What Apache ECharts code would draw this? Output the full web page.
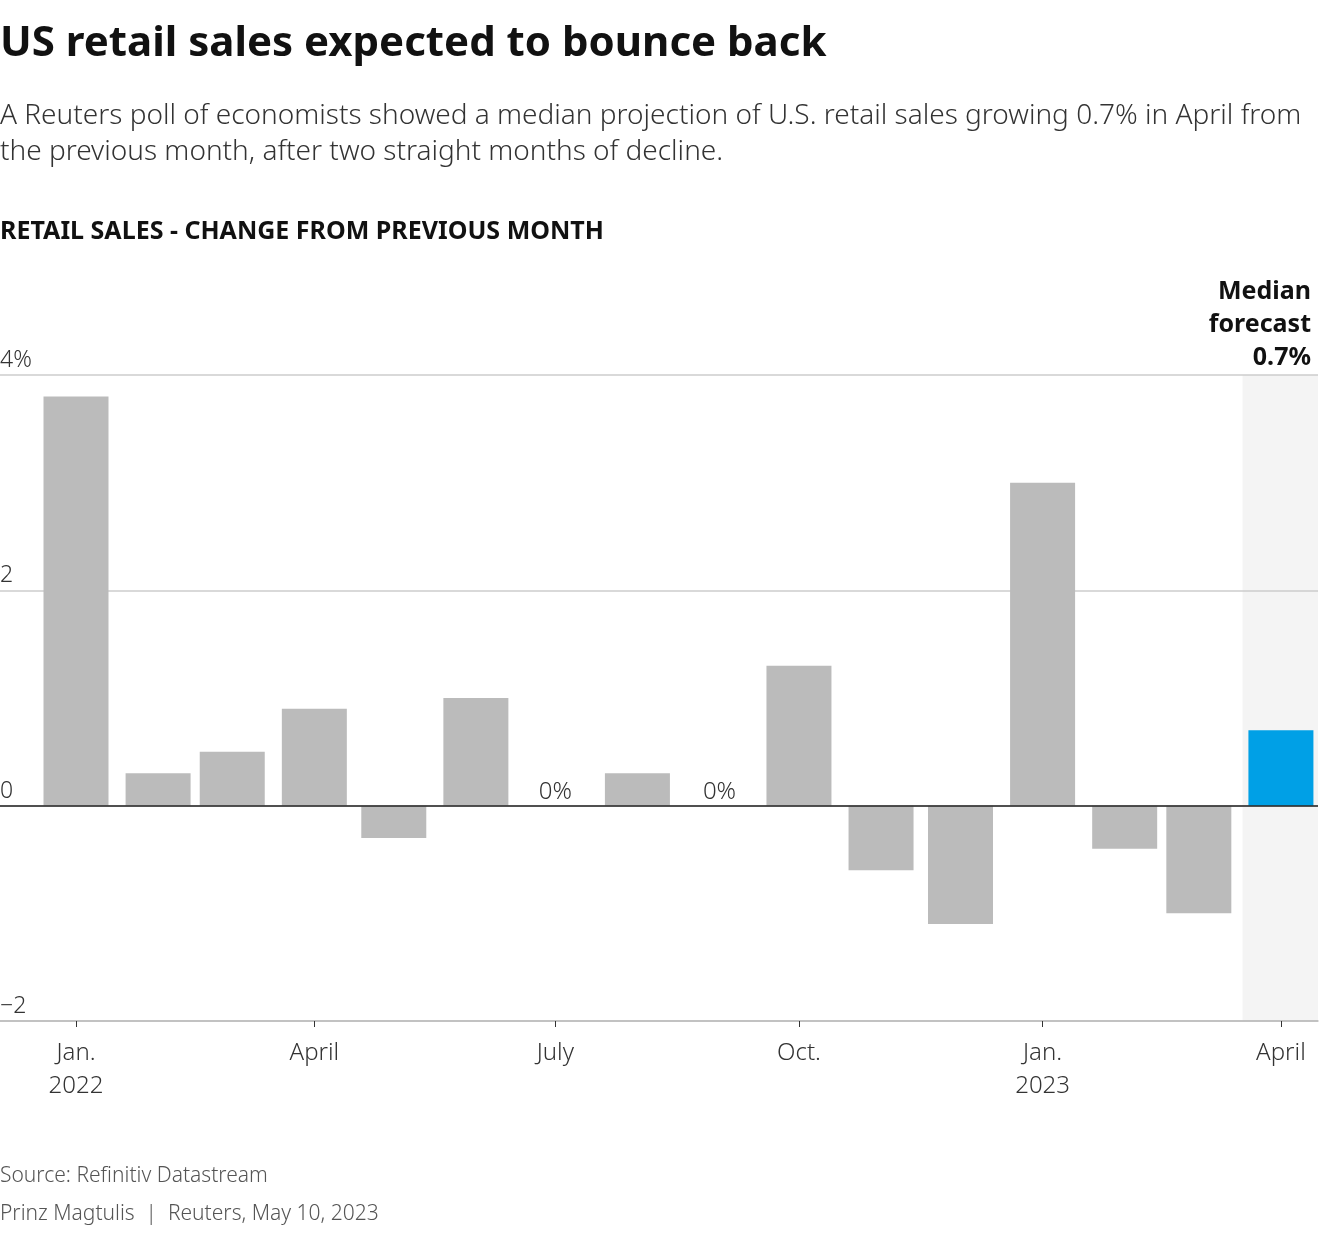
<!DOCTYPE html>
<html lang="en">
<head>
    <meta charset="UTF-8">
    <title>US retail sales expected to bounce back</title>
    <script src="https://cdn.jsdelivr.net/npm/echarts@6/dist/echarts.min.js"></script>
    <style>
        *{
            padding: 0;
            margin: 0;
        }
        html, body{
            width: 100%;
            height: 100%;
            background: #fff;
        }
        .echarts{
            width: 1320px;
            height: 1240px;
        }
    </style>
</head>
<body>
<div class="echarts"></div>
<script>
    // monthly % change, Jan 2022 - Mar 2023 actual, Apr 2023 forecast
    const months = ['2022-01', '2022-02', '2022-03', '2022-04', '2022-05', '2022-06', '2022-07', '2022-08',
        '2022-09', '2022-10', '2022-11', '2022-12', '2023-01', '2023-02', '2023-03'];
    const values = [3.8, 0.3, 0.5, 0.9, -0.3, 1.0, 0, 0.3, 0, 1.3, -0.6, -1.1, 3.0, -0.4, -1.0];
    const forecastMonth = '2023-04';
    const forecastValue = 0.7;
    const tickMonths = ['2022-01', '2022-04', '2022-07', '2022-10', '2023-01', '2023-04'];
    const tickLabels = ['Jan.\n2022', 'April', 'July', 'Oct.', 'Jan.\n2023', 'April'];

    const FONT = "'Source Sans Pro', 'Noto Sans', sans-serif";
    const base = Date.UTC(2022, 0, 1);
    // month string -> days since Jan 1, 2022
    function toDay(m) {
        let [y, mo] = m.split('-').map(Number);
        return (Date.UTC(y, mo - 1, 1) - base) / 86400000;
    }
    const xMin = -28.7, xMax = 469;

    window.onload = function () {
        let chart = echarts.init(document.querySelector('.echarts'));
        let actual = months.map((m, i) => [toDay(m), values[i]]);
        let fDay = toDay(forecastMonth);
        let tickDays = tickMonths.map(toDay);
        let labelMap = {};
        tickDays.forEach((d, i) => labelMap[d] = tickLabels[i]);

        let option = {
            backgroundColor: '#fff',
            animation: false,
            textStyle: {fontFamily: FONT},
            title: [{
                text: 'US retail sales expected to bounce back',
                left: 0, top: 23, padding: 0,
                textStyle: {fontFamily: FONT, fontSize: 42, fontWeight: 'bold', color: '#111'}
            }, {
                text: 'A Reuters poll of economists showed a median projection of U.S. retail sales growing 0.7% in April from\nthe previous month, after two straight months of decline.',
                left: 0, top: 98, padding: 0,
                textStyle: {fontFamily: FONT, fontSize: 28, fontWeight: 300, color: '#333', lineHeight: 36}
            }, {
                text: 'RETAIL SALES - CHANGE FROM PREVIOUS MONTH',
                left: 0, top: 219, padding: 0,
                textStyle: {fontFamily: FONT, fontSize: 25, fontWeight: 'bold', color: '#111'}
            }, {
                text: 'Source: Refinitiv Datastream',
                left: 0, top: 1166, padding: 0,
                textStyle: {fontFamily: FONT, fontSize: 21, fontWeight: 300, color: '#555'}
            }, {
                text: 'Prinz Magtulis  |  Reuters, May 10, 2023',
                left: 0, top: 1204, padding: 0,
                textStyle: {fontFamily: FONT, fontSize: 21, fontWeight: 300, color: '#555'}
            }],
            graphic: [{
                type: 'text',
                x: 1311, y: 275,
                style: {
                    text: 'Median\nforecast\n0.7%',
                    align: 'right', verticalAlign: 'top',
                    font: 'bold 25px ' + FONT,
                    fill: '#111', lineHeight: 33
                }
            }],
            grid: {left: 0, right: 2, top: 375, bottom: 219, containLabel: false, outerBoundsMode: 'none'},
            xAxis: {
                type: 'value',
                min: xMin,
                max: xMax,
                splitLine: {show: false},
                axisLine: {show: true, onZero: false, lineStyle: {color: '#bbb', width: 1.5}},
                axisTick: {show: true, customValues: tickDays, length: 6, lineStyle: {color: '#333'}},
                axisLabel: {
                    customValues: tickDays,
                    formatter: v => labelMap[v] || '',
                    fontFamily: FONT, fontSize: 24, fontWeight: 300, color: '#333',
                    lineHeight: 33, margin: 16
                }
            },
            yAxis: {
                type: 'value',
                min: -2, max: 4, interval: 2,
                axisLine: {show: false},
                axisTick: {show: false},
                splitLine: {lineStyle: {color: '#ccc', width: 1.5}},
                axisLabel: {
                    inside: true,
                    align: 'left',
                    verticalAlign: 'bottom',
                    margin: 0,
                    padding: [0, 0, 3, 0],
                    fontFamily: FONT, fontSize: 23, fontWeight: 300, color: '#333',
                    formatter: v => v === 4 ? '4%' : (v < 0 ? '\u2212' + Math.abs(v) : String(v))
                }
            },
            series: [{
                // shaded forecast band, kept under the grid lines
                name: 'Band',
                type: 'bar',
                data: [],
                z: -1,
                markArea: {
                    silent: true,
                    z: -1,
                    itemStyle: {color: '#f4f4f4'},
                    data: [[{xAxis: fDay - 14.5, yAxis: 4}, {xAxis: xMax, yAxis: -2}]]
                }
            }, {
                name: 'Actual',
                type: 'bar',
                barWidth: 65,
                data: actual,
                itemStyle: {color: '#bbbbbb'},
                label: {
                    show: true,
                    position: 'top',
                    distance: 2,
                    fontFamily: FONT, fontSize: 24, fontWeight: 300, color: '#333',
                    formatter: p => p.value[1] === 0 ? '0%' : ''
                },
                markLine: {
                    silent: true,
                    symbol: 'none',
                    label: {show: false},
                    lineStyle: {color: '#222', width: 1.5, type: 'solid'},
                    data: [{yAxis: 0}]
                }
            }, {
                name: 'Forecast',
                type: 'bar',
                barWidth: 65,
                barGap: '-100%',
                data: [[fDay, forecastValue]],
                itemStyle: {color: '#00a0e6'},
                z: 3
            }]
        };
        chart.setOption(option);
    }
</script>
</body>
</html>
